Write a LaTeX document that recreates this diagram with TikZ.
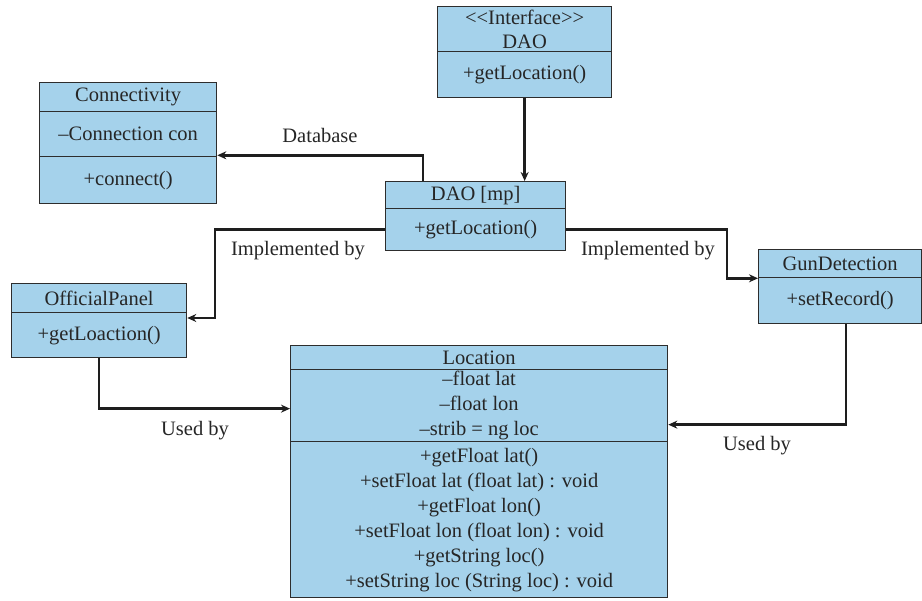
\documentclass[tikz,border=0pt]{standalone}
\usepackage{fontspec}
\setmainfont{Liberation Serif}
\usetikzlibrary{arrows.meta}
\definecolor{boxfill}{RGB}{165,210,235}
\definecolor{boxline}{RGB}{45,45,45}
\definecolor{conline}{RGB}{30,30,30}
\begin{document}
\begin{tikzpicture}[x=1pt,y=-1pt,
  cls/.style={draw=boxline,line width=1.3pt,fill=boxfill,anchor=north west,inner sep=0pt,align=center,
     font=\fontsize{20.5}{24}\selectfont,text=black!85},
  arr/.style={draw=conline,line width=2.6pt,-{Stealth[length=9pt,width=8pt]}},
  lbl/.style={font=\fontsize{20.5}{24}\selectfont,text=black!85}]
\useasboundingbox (0,0) rectangle (922,601);
% Interface DAO
\node[cls,minimum width=174pt,minimum height=45pt] (ifh) at (437,6) {<\kern0pt<Interface>\kern0pt>\\DAO};
\node[cls,minimum width=174pt,minimum height=46pt] (ifb) at (437,51) {+getLocation()};
% Connectivity
\node[cls,minimum width=177pt,minimum height=29pt] (conh) at (39,82) {Connectivity};
\node[cls,minimum width=177pt,minimum height=45pt] (cona) at (39,111) {--Connection con};
\node[cls,minimum width=177pt,minimum height=47pt] (conb) at (39,156) {+connect()};
% DAO [mp]
\node[cls,minimum width=180pt,minimum height=27pt] (dmh) at (385,181) {DAO [mp]};
\node[cls,minimum width=180pt,minimum height=42pt] (dmb) at (385,208) {+getLocation()};
% OfficialPanel
\node[cls,minimum width=175pt,minimum height=29pt] (oph) at (11,283) {OfficialPanel};
\node[cls,minimum width=175pt,minimum height=45pt] (opb) at (11,312) {+getLoaction()};
% GunDetection
\node[cls,minimum width=163pt,minimum height=28pt] (gdh) at (758,249) {GunDetection};
\node[cls,minimum width=163pt,minimum height=46pt] (gdb) at (758,277) {+setRecord()};
% Location
\node[cls,minimum width=377pt,minimum height=24pt] (loch) at (290,345) {Location};
\node[cls,minimum width=377pt,minimum height=72pt,font=\fontsize{20.5}{25}\selectfont] (loca) at (290,369) {--float lat\\--float lon\\--strib = ng loc};
\node[cls,minimum width=377pt,minimum height=156pt,font=\fontsize{20.5}{25}\selectfont] (locb) at (290,441) {+getFloat lat()\\+setFloat lat (float lat) : void\\+getFloat lon()\\+setFloat lon (float lon) : void\\+getString loc()\\+setString loc (String loc) : void};
% connectors
\draw[arr] (ifb.south) -- (ifb.south |- dmh.north);
\draw[arr] ([xshift=38pt]dmh.north west) |- ([yshift=2pt]cona.south east);
\draw[arr] (dmb.west) -- (215,0 |- dmb.west) |- ([yshift=-6pt]opb.north east);
\draw[arr] (dmb.east) -- (727,0 |- dmb.east) |- (gdh.south west);
\draw[arr] (opb.south) |- ([yshift=-3pt]loca.west);
\draw[arr] ([xshift=6pt]gdb.south) |- ([yshift=-19pt]loca.east);
% labels
\node[lbl] (l1) at (320,135) {Database};
\node[lbl] (l2) at (298,251) {Implemented by};
\node[lbl] (l3) at (648,251) {Implemented by};
\node[lbl] (l4) at (195,431) {Used by};
\node[lbl] (l5) at (757,446) {Used by};
\end{tikzpicture}
\end{document}
